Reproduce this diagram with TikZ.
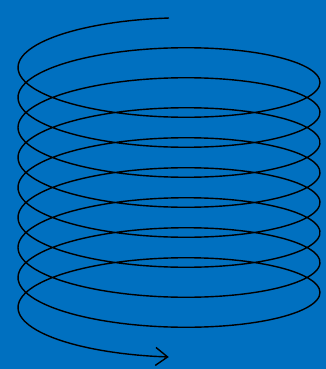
\documentclass[tikz,border=0pt]{standalone}
\usetikzlibrary{arrows.meta}
\definecolor{bgblue}{HTML}{0070C0}
\begin{document}
\begin{tikzpicture}[x=1pt,y=-1pt,
  helix/.style={line width=1.4pt,black,-{Straight Barb[length=12pt,width=18pt,line width=1.4pt]}}]
\fill[bgblue] (0,0) rectangle (326,369);
\useasboundingbox (0,0) rectangle (326,369);
\draw[helix] plot[smooth,samples=500,domain=0:53.4071,variable=\t]
  ({169-151*sin(\t r)},{60+30*\t/6.28319-42*cos(\t r)});
\end{tikzpicture}
\end{document}
